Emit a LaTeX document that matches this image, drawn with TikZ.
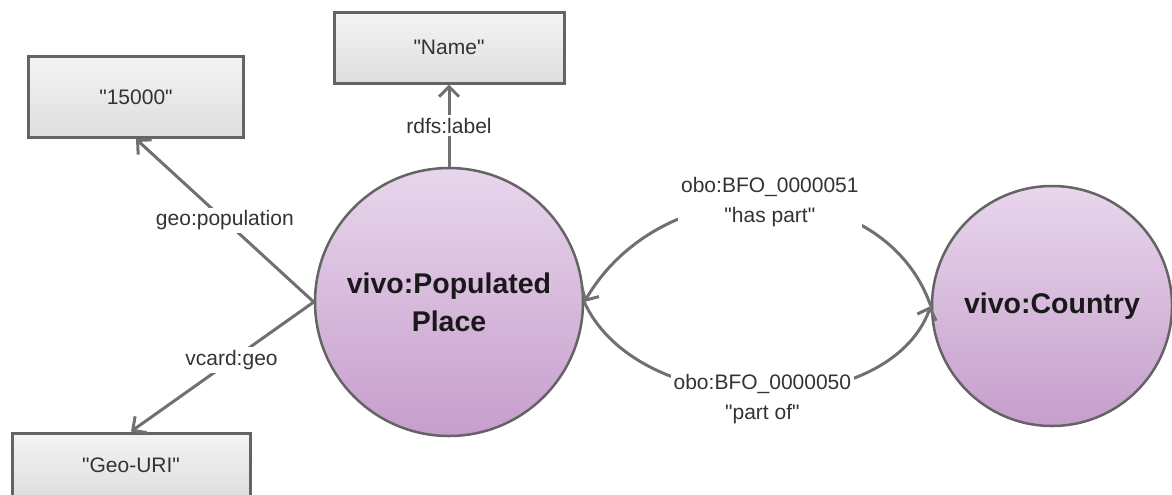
\documentclass[tikz,border=0pt]{standalone}
\usepackage{fontspec}
\setmainfont{Liberation Sans}
\usetikzlibrary{arrows.meta}
\newcommand{\qt}[1]{\textquotedbl#1\textquotedbl}
\definecolor{edgegray}{RGB}{112,112,112}
\definecolor{rimgray}{RGB}{100,100,100}
\definecolor{lilactop}{RGB}{232,214,236}
\definecolor{lilacbot}{RGB}{198,158,204}
\definecolor{boxtop}{RGB}{244,244,244}
\definecolor{boxbot}{RGB}{222,222,222}
\definecolor{txtgray}{RGB}{51,51,51}
\tikzset{
 cls/.style={circle, draw=rimgray, line width=1.25pt, top color=lilactop, bottom color=lilacbot,
   font=\fontsize{14.25}{19}\selectfont\bfseries, text=black!90, align=center, inner sep=0pt},
 lit/.style={rectangle, draw=rimgray, line width=1.5pt, top color=boxtop, bottom color=boxbot,
   font=\fontsize{10.5}{13}\selectfont, text=txtgray, inner sep=0pt},
 prop/.style={draw=edgegray, line width=1.5pt, -{Straight Barb[length=5pt,width=10pt]}},
 plabel/.style={fill=white, inner sep=1.5pt, font=\fontsize{10.5}{15}\selectfont, text=txtgray, align=center}
}

\begin{document}
\begin{tikzpicture}[x=0.5pt,y=-0.5pt]
\useasboundingbox (0,0) rectangle (1172,494);
% classes
\node[cls, minimum size=134pt] (place) at (449,302) {vivo:Populated\\Place};
\node[cls, minimum size=120pt] (country) at (1052,306) {vivo:Country};
% literals
\node[lit, minimum width=107.5pt, minimum height=40.5pt] (pop) at (136,97) {\qt{15000}};
\node[lit, minimum width=115pt, minimum height=35.5pt] (name) at (449,47.5) {\qt{Name}};
\node[lit, minimum width=119pt, minimum height=32pt] (geouri) at (131,465) {\qt{Geo-URI}};
% properties
\draw[prop] (place) -- node[plabel] {rdfs:label} (name);
\draw[prop] (place.west) -- node[plabel] {geo:population} (pop.south);
\draw[prop] (place.west) -- node[plabel, pos=0.45] {vcard:geo} (geouri.north);
\draw[prop] (country.west) .. controls +(-47,-135) and +(80,-137) .. node[plabel] {obo:BFO\_0000051\\\qt{has part}} (place.east);
\draw[prop] (place.east) .. controls +(55,120) and +(-42,117) .. node[plabel, yshift=-3pt] {obo:BFO\_0000050\\\qt{part of}} (country.west);
\end{tikzpicture}
\end{document}
